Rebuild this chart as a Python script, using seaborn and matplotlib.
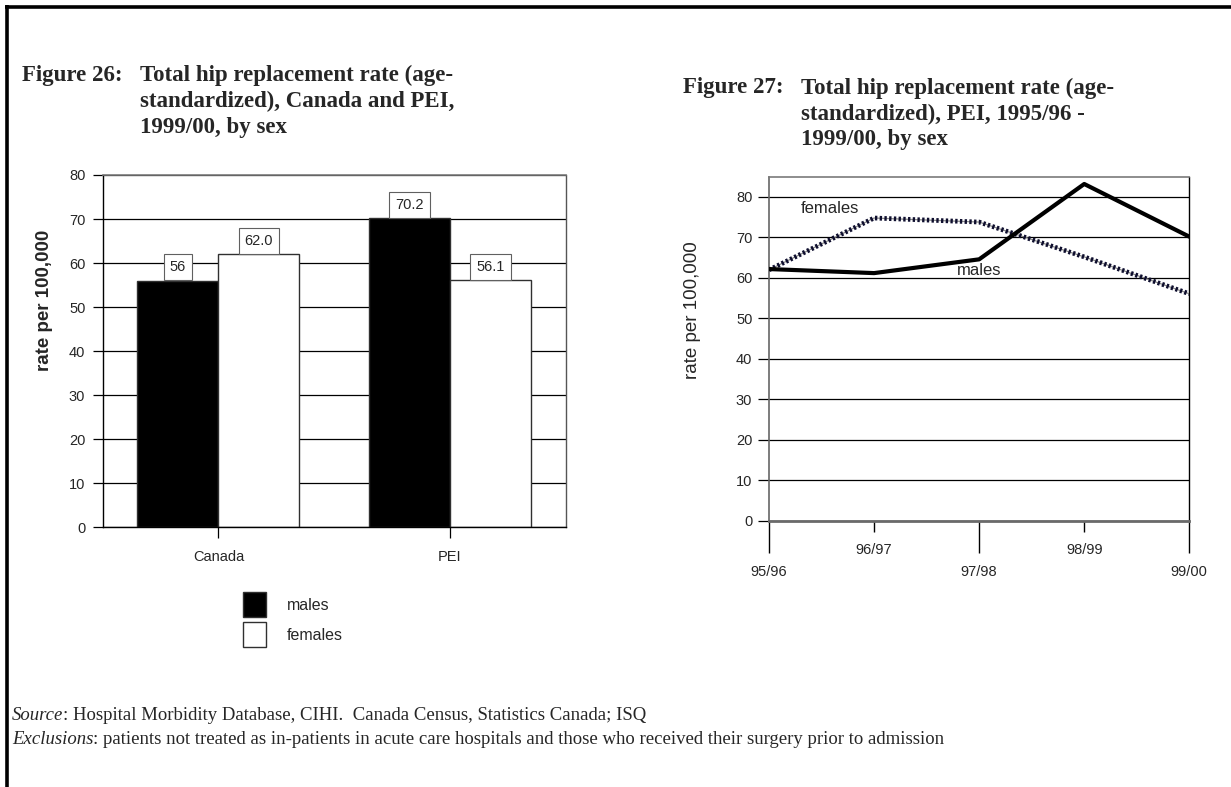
import matplotlib
matplotlib.use("Agg")
import matplotlib.pyplot as plt
from matplotlib.lines import Line2D
import numpy as np
import pandas as pd
import seaborn as sns

# ---- data -----------------------------------------------------------------
regions = ["Canada", "PEI"]
sexes = ["males", "females"]
rate_males_1999 = [56.0, 70.2]
rate_females_1999 = [62.0, 56.1]
value_labels_males = ["56", "70.2"]
value_labels_females = ["62.0", "56.1"]

years = ["95/96", "96/97", "97/98", "98/99", "99/00"]
pei_males = [62.2, 61.2, 64.6, 83.2, 70.2]
pei_females = [62.0, 74.8, 73.8, 65.2, 56.1]

# ---- style ----------------------------------------------------------------
sns.set_style("white")
plt.rcParams["font.family"] = ["Liberation Sans", "DejaVu Sans"]
SERIF = ["Liberation Serif", "DejaVu Serif"]

W, H = 1231, 787
fig = plt.figure(figsize=(W / 100, H / 100), dpi=100)


def fx(px):
    return px / W


def fy(py):
    return 1 - py / H


# ---- page frame -------------------------------------------------------------
fig.add_artist(Line2D([fx(5), 1], [fy(6.5), fy(6.5)], transform=fig.transFigure,
                      color="black", lw=2.6, solid_capstyle="butt"))
fig.add_artist(Line2D([fx(6.5), fx(6.5)], [0, fy(5)], transform=fig.transFigure,
                      color="black", lw=2.6, solid_capstyle="butt"))

# ---- titles -----------------------------------------------------------------
title_kw = dict(family=SERIF, fontweight="bold", fontsize=16.5, va="center")
fig.text(fx(22), fy(75), "Figure 26:", **title_kw)
for i, line in enumerate(["Total hip replacement rate (age-",
                          "standardized), Canada and PEI,",
                          "1999/00, by sex"]):
    fig.text(fx(140), fy(75 + 26 * i), line, **title_kw)

fig.text(fx(683), fy(88), "Figure 27:", **title_kw)
for i, line in enumerate(["Total hip replacement rate (age-",
                          "standardized), PEI, 1995/96 -",
                          "1999/00, by sex"]):
    fig.text(fx(801), fy(88 + 26 * i), line, **title_kw)

# ---- Figure 26: bar chart ---------------------------------------------------
ax1 = fig.add_axes([fx(102.7), fy(527.3), fx(565.7) - fx(102.7), fy(175) - fy(527.3)])
bars = pd.DataFrame({
    "region": regions * 2,
    "sex": ["males"] * len(regions) + ["females"] * len(regions),
    "rate": rate_males_1999 + rate_females_1999,
})
sns.barplot(data=bars, x="region", y="rate", hue="sex", order=regions,
            hue_order=sexes, palette={"males": "black", "females": "white"},
            width=0.7, errorbar=None, linewidth=1.0, edgecolor="#303030",
            ax=ax1, zorder=2)
ax1.set_ylim(0, 80)
ax1.set_xlim(-0.5, len(regions) - 0.5)
ax1.set_yticks(np.arange(0, 81, 10))
ax1.yaxis.grid(True, color="black", lw=0.9)
ax1.set_axisbelow(True)
for side, col, lw in [("left", "black", 1.0), ("bottom", "black", 1.0),
                      ("top", "#7a7a7a", 1.2), ("right", "#555555", 1.0)]:
    ax1.spines[side].set_visible(True)
    ax1.spines[side].set_color(col)
    ax1.spines[side].set_linewidth(lw)
ax1.tick_params(axis="y", direction="out", length=7.5, width=0.9, pad=5,
                labelsize=10.5, left=True, color="black")
ax1.tick_params(axis="x", direction="out", length=8, width=0.9, pad=8,
                labelsize=10.5, bottom=True, color="black")
ax1.set_xlabel("")
ax1.set_ylabel("rate per 100,000", fontweight="bold", fontsize=13.5)
ax1.yaxis.set_label_coords(-0.107, 0.645)

box = dict(boxstyle="square,pad=0.42", fc="white", ec="#606060", lw=0.8)
for container, labels in zip(ax1.containers, [value_labels_males, value_labels_females]):
    ax1.bar_label(container, labels=labels, padding=4.6, fontsize=10.5, bbox=box)

handles, labels = ax1.get_legend_handles_labels()
leg = ax1.legend(handles, labels, loc="upper left",
                 bbox_to_anchor=(fx(243), fy(592)), bbox_transform=fig.transFigure,
                 frameon=False, borderpad=0, borderaxespad=0, handlelength=1.44,
                 handleheight=2.03, handletextpad=1.3, labelspacing=0.34,
                 fontsize=11.5)
for h, fc in zip(leg.legend_handles, ["black", "white"]):
    h.set_facecolor(fc)
    h.set_edgecolor("#303030")
    h.set_linewidth(1.0)

# ---- Figure 27: line chart --------------------------------------------------
ax2 = fig.add_axes([fx(769), fy(521), fx(1189.3) - fx(769), fy(176.7) - fy(521)])
xpos = np.arange(len(years))
sns.lineplot(x=xpos, y=pei_females, color="#8a8a8a", lw=0.9, ax=ax2, zorder=3)
sns.lineplot(x=xpos, y=pei_females, color="#0e0e2e", lw=3.4, ax=ax2, zorder=4)
ax2.lines[-1].set_linestyle((0, (0.5, 0.5)))
sns.lineplot(x=xpos, y=pei_males, color="black", lw=3.0, ax=ax2, zorder=5)

ax2.set_xlim(0, len(years) - 1)
ax2.set_ylim(0, 85)
ax2.set_yticks(np.arange(0, 81, 10))
ax2.yaxis.grid(True, color="black", lw=0.9)
ax2.set_axisbelow(True)
for side, col, lw in [("left", "#666666", 1.2), ("bottom", "#6a6a6a", 2.0),
                      ("top", "#7a7a7a", 1.2), ("right", "black", 1.0)]:
    ax2.spines[side].set_visible(True)
    ax2.spines[side].set_color(col)
    ax2.spines[side].set_linewidth(lw)

ax2.set_xticks(xpos[0::2])
ax2.set_xticklabels(years[0::2])
ax2.set_xticks(xpos[1::2], minor=True)
ax2.set_xticklabels(years[1::2], minor=True)
ax2.tick_params(axis="x", which="major", direction="out", length=23, width=1.0,
                pad=9, labelsize=10.5, color="black", bottom=True)
ax2.tick_params(axis="x", which="minor", direction="out", length=8, width=1.0,
                pad=8, labelsize=10.5, color="black", bottom=True)
ax2.tick_params(axis="y", direction="out", length=8, width=0.9, pad=4,
                labelsize=10.5, color="black", left=True)
ax2.set_ylabel("rate per 100,000", fontsize=13.5)
ax2.yaxis.set_label_coords(-0.162, 0.613)

ax2.text(0.58, 77.2, "females", ha="center", va="center", fontsize=12, zorder=6)
ax2.text(2.0, 61.9, "males", ha="center", va="center", fontsize=12, zorder=6)

# ---- footnotes ----------------------------------------------------------------
renderer = fig.canvas.get_renderer()


def mixed_line(x_px, y_px, parts, size=13.5):
    x = fx(x_px)
    for txt, style in parts:
        t = fig.text(x, fy(y_px), txt, family=SERIF, fontstyle=style,
                     fontsize=size, va="center")
        x = t.get_window_extent(renderer).x1 / fig.bbox.width


mixed_line(12, 715, [("Source", "italic"),
                     (": Hospital Morbidity Database, CIHI.  Canada Census, "
                      "Statistics Canada; ISQ", "normal")])
mixed_line(12, 739, [("Exclusions", "italic"),
                     (": patients not treated as in-patients in acute care hospitals "
                      "and those who received their surgery prior to admission", "normal")])

fig.savefig("out.png", dpi=100, facecolor="white")
